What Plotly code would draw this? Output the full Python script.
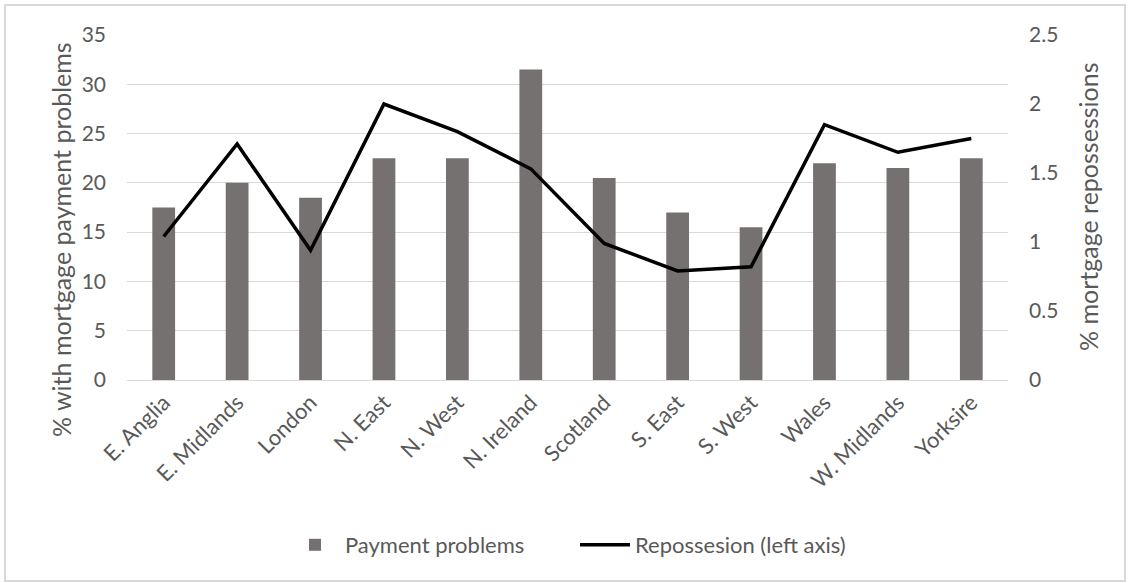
import plotly.graph_objects as go

regions = ["E. Anglia", "E. Midlands", "London", "N. East", "N. West", "N. Ireland",
           "Scotland", "S. East", "S. West", "Wales", "W. Midlands", "Yorksire"]
payment_problems = [17.5, 20, 18.5, 22.5, 22.5, 31.5, 20.5, 17, 15.5, 22, 21.5, 22.5]
repossessions = [1.04, 1.71, 0.94, 2.0, 1.80, 1.53, 0.99, 0.79, 0.82, 1.85, 1.65, 1.75]

left_ticks = [0, 5, 10, 15, 20, 25, 30, 35]
right_ticks = [0, 0.5, 1, 1.5, 2, 2.5]
right_tick_text = ["0", "0.5", "1", "1.5", "2", "2.5"]

TEXT = "#595959"
GRID = "#d9d9d9"
FONT = "Lato"
TICK_SIZE = 21
CAT_SIZE = 22
LEGEND_SIZE = 22
TITLE_SIZE = 25

# plot-area geometry in pixels
L, R, T, B = 127, 122, 35, 203
PW, PH = 1130 - L - R, 583 - T - B


def px_x(x):
    return (x - L) / PW


def px_y(y):
    return (583 - B - y) / PH


fig = go.Figure()
fig.add_trace(go.Bar(
    x=regions, y=payment_problems, name="Payment problems",
    marker=dict(color="#767171", line=dict(width=0)),
    width=0.31, yaxis="y",
))
fig.add_trace(go.Scatter(
    x=regions, y=repossessions, name="Repossesion (left axis)",
    mode="lines", line=dict(color="#000000", width=3.5),
    yaxis="y2",
))

fig.update_layout(
    width=1130, height=583,
    margin=dict(l=L, r=R, t=T, b=B),
    paper_bgcolor="white", plot_bgcolor="white",
    font=dict(family=FONT, size=TICK_SIZE, color=TEXT),
    showlegend=True,
    legend=dict(orientation="h", x=px_x(575), xanchor="center", y=px_y(545), yanchor="middle",
                font=dict(family=FONT, size=LEGEND_SIZE, color=TEXT),
                itemwidth=50, entrywidth=225, entrywidthmode="pixels", tracegroupgap=0),
    xaxis=dict(
        tickangle=-45, showgrid=False, showline=True, linecolor=GRID, linewidth=1,
        ticks="", tickfont=dict(family=FONT, size=CAT_SIZE, color=TEXT),
    ),
    yaxis=dict(
        range=[0, 35], tickvals=left_ticks, showgrid=True, gridcolor=GRID, gridwidth=1,
        zeroline=False, showline=False, ticks="", ticklabelstandoff=20,
        tickfont=dict(family=FONT, size=TICK_SIZE, color=TEXT),
    ),
    yaxis2=dict(
        range=[0, 2.5], tickvals=right_ticks, ticktext=right_tick_text,
        overlaying="y", side="right", showgrid=False, zeroline=False, showline=False,
        ticks="", ticklabelstandoff=20,
        tickfont=dict(family=FONT, size=TICK_SIZE, color=TEXT),
    ),
    bargap=0.69,
)

# axis titles
fig.add_annotation(
    text="% with mortgage payment problems", xref="paper", yref="paper",
    x=px_x(61), y=px_y(240), textangle=-90, showarrow=False,
    xanchor="center", yanchor="middle", font=dict(family=FONT, size=TITLE_SIZE, color=TEXT),
)
fig.add_annotation(
    text="% mortgage repossessions", xref="paper", yref="paper",
    x=px_x(1088), y=px_y(207), textangle=-90, showarrow=False,
    xanchor="center", yanchor="middle", font=dict(family=FONT, size=TITLE_SIZE, color=TEXT),
)

# chart border
fig.add_shape(
    type="rect", xref="paper", yref="paper",
    x0=px_x(5), x1=px_x(1125), y0=px_y(581), y1=px_y(5),
    line=dict(color="#d9d9d9", width=2), fillcolor="rgba(0,0,0,0)", layer="below",
)

fig.write_html("out.html")
